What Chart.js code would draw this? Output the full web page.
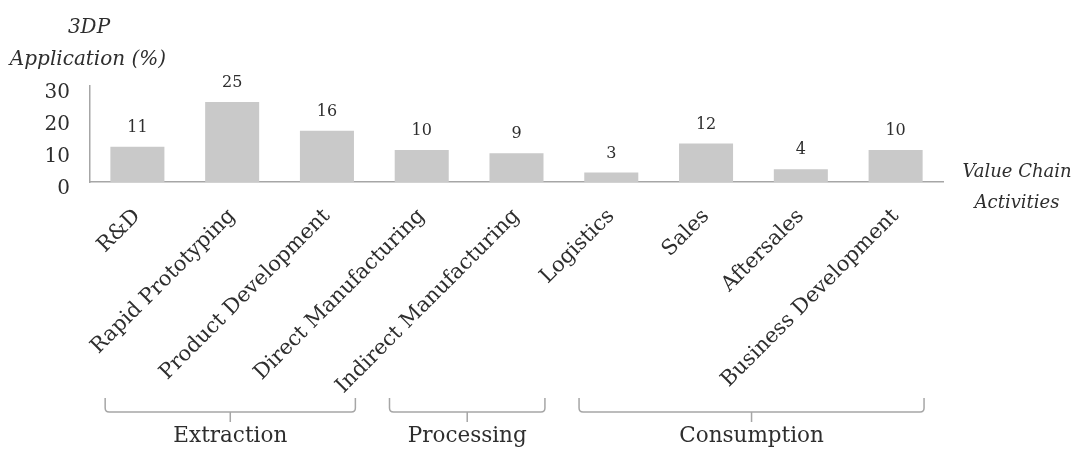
<!DOCTYPE html>
<html><head><meta charset="utf-8">
<script src="https://cdn.jsdelivr.net/npm/chart.js@4.4.1/dist/chart.umd.min.js"></script>
<style>html,body{margin:0;padding:0;background:#fff}#wrap{width:1089px;height:450px}</style>
</head><body><div id="wrap"><canvas id="c" width="1089" height="450"></canvas></div>
<script>
const categories = ['R&D','Rapid Prototyping','Product Development','Direct Manufacturing','Indirect Manufacturing','Logistics','Sales','Aftersales','Business Development'];
const values = [11,25,16,10,9,3,12,4,10];
const yTickValues = [0,10,20,30];
const groupNames = ['Extraction','Processing','Consumption'];
const groupStart = [0,3,5];
const groupEnd = [2,4,8];
const yTitleLines = ['3DP','Application (%)'];
const xTitleLines = ['Value Chain','Activities'];

const SERIF = '"DejaVu Serif", "Liberation Serif", serif';
const TEXT = '#2e2e2e';
const AXIS = '#a6a6a6';

const extras = {
  id: 'extras',
  afterDatasetsDraw(chart) {
    const ctx = chart.ctx;
    const meta = chart.getDatasetMeta(0);
    const xs = chart.scales.x;
    ctx.save();
    // value labels
    ctx.fillStyle = TEXT;
    ctx.font = '16px ' + SERIF;
    ctx.textAlign = 'center';
    ctx.textBaseline = 'middle';
    meta.data.forEach((el, i) => {
      ctx.fillText(String(values[i]), el.x, el.y - 19);
    });
    // y title
    ctx.font = 'italic 20px ' + SERIF;
    ctx.fillText(yTitleLines[0], 89, 28);
    ctx.fillText(yTitleLines[1], 88, 60);
    // x title
    ctx.font = 'italic 18px ' + SERIF;
    ctx.fillText(xTitleLines[0], 1017, 172);
    ctx.fillText(xTitleLines[1], 1017, 203);
    // brackets
    const w = xs.width / categories.length;
    ctx.strokeStyle = AXIS;
    ctx.lineWidth = 1.5;
    const yTop = 398, yLine = 412, yStem = 422, r = 4;
    groupNames.forEach((name, g) => {
      const xL = xs.getPixelForValue(groupStart[g]) - 0.34 * w;
      const xR = xs.getPixelForValue(groupEnd[g]) + 0.3 * w;
      const xc = (xL + xR) / 2;
      ctx.beginPath();
      ctx.moveTo(xL, yTop);
      ctx.lineTo(xL, yLine - r);
      ctx.quadraticCurveTo(xL, yLine, xL + r, yLine);
      ctx.lineTo(xR - r, yLine);
      ctx.quadraticCurveTo(xR, yLine, xR, yLine - r);
      ctx.lineTo(xR, yTop);
      ctx.moveTo(xc, yLine);
      ctx.lineTo(xc, yStem);
      ctx.stroke();
      ctx.fillStyle = TEXT;
      ctx.font = '21.5px ' + SERIF;
      ctx.textAlign = 'center';
      ctx.textBaseline = 'middle';
      ctx.fillText(name, xc, 436);
    });
    ctx.restore();
  }
};

new Chart(document.getElementById('c'), {
  type: 'bar',
  data: {
    labels: categories,
    datasets: [{
      data: values,
      backgroundColor: '#c9c9c9',
      borderWidth: 0,
      categoryPercentage: 1,
      barPercentage: 0.57
    }]
  },
  options: {
    responsive: false,
    animation: false,
    layout: { padding: { left: 0, top: 86, right: 146, bottom: 0 } },
    plugins: { legend: { display: false }, tooltip: { enabled: false } },
    scales: {
      x: {
        grid: { display: false, drawTicks: false },
        border: { display: true, color: AXIS, width: 1.5 },
        ticks: {
          autoSkip: false, minRotation: 45, maxRotation: 45, padding: 22,
          color: TEXT, font: { family: SERIF, size: 21 }
        },
        afterFit(s) { s.height = 268; }
      },
      y: {
        min: 0, max: 30,
        grid: { display: false, drawTicks: false },
        border: { display: true, color: AXIS, width: 1.5 },
        afterBuildTicks(s) { s.ticks = yTickValues.map(v => ({ value: v })); },
        ticks: {
          padding: 20, color: TEXT,
          font: { family: SERIF, size: 20, lineHeight: 0.68 },
          callback: (v) => ['', String(v)]
        },
        afterFit(s) { s.width = 90; }
      }
    }
  },
  plugins: [extras]
});
</script></body></html>
